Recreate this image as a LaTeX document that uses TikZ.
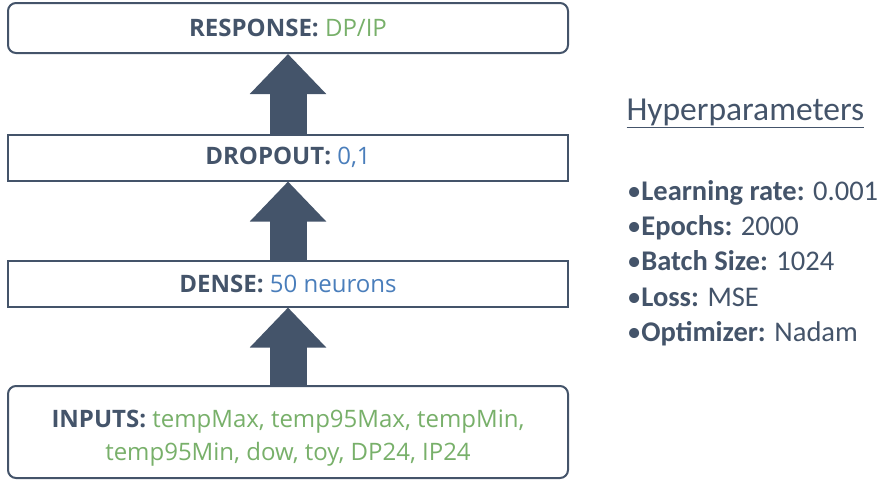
\documentclass[tikz,border=0pt]{standalone}
\usepackage{fontspec}
\setmainfont{Open Sans}
\newfontfamily\hpfont{Carlito}
\usetikzlibrary{arrows.meta,positioning}

\definecolor{slate}{HTML}{44546A}
\definecolor{leaf}{HTML}{78B06A}
\definecolor{sky}{HTML}{4A7EBB}

\tikzset{
  layer/.style={draw=slate,line width=2pt,minimum width=560pt,minimum height=46pt,
    align=center,text=slate,font=\fontsize{24}{33}\selectfont},
  roundlayer/.style={layer,rounded corners=8pt},
  flow/.style={slate,line width=37pt,-{Triangle[width=74pt,length=40pt]}}
}

\begin{document}
\begin{tikzpicture}[x=1pt,y=-1pt]
  \useasboundingbox[fill=white] (0,0) rectangle (883,483);

  % network layers
  \node[roundlayer,minimum height=50pt] (response) at (288,28) {\textbf{RESPONSE:} \textcolor{leaf}{DP/IP}};
  \node[layer] (dropout) at (288,157.5) {\textbf{DROPOUT:} \textcolor{sky}{0,1}};
  \node[layer] (dense) at (288,283.5) {\textbf{DENSE:} \textcolor{sky}{50 neurons}};
  \node[roundlayer,minimum height=92pt] (inputs) at (288,432)
    {\rule{0pt}{30pt}\textbf{INPUTS:} \textcolor{leaf}{tempMax, temp95Max, tempMin,}\\ \textcolor{leaf}{temp95Min, dow, toy, DP24, IP24}};

  \draw[flow] (inputs.north) -- (dense.south);
  \draw[flow] (dense.north) -- (dropout.south);
  \draw[flow] (dropout.north) -- (response.south);

  % hyperparameters
  \node[anchor=west,text=slate,font=\hpfont\fontsize{33.5}{38}\selectfont] (hyper) at (623,113) {\underline{Hyperparameters}};
  \node[anchor=north west,align=left,text=slate,font=\hpfont\fontsize{28.5}{35.3}\selectfont,inner sep=0pt] (params) at (627,180)
    {•\textbf{Learning rate:} 0.001\\ •\textbf{Epochs:} 2000\\ •\textbf{Batch Size:} 1024\\ •\textbf{Loss:} MSE\\ •\textbf{Optimizer:} Nadam};
\end{tikzpicture}
\end{document}
